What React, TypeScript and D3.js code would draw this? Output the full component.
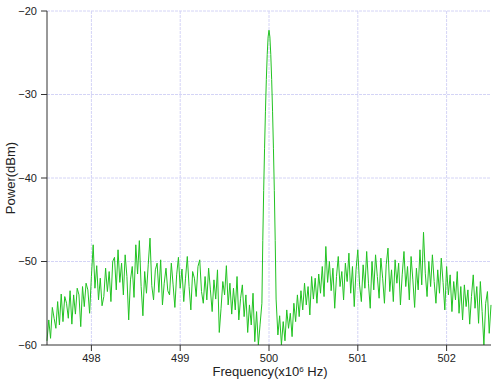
import React from "react";
import * as d3 from "d3";

// Noise floor left of carrier: 497.50 .. 499.92 MHz, step 0.02
const leftStart = 497.5;
const leftPower = [
  -59.5, -57.0, -59.2, -55.5, -56.8, -58.0, -54.8, -57.6, -53.9, -57.2,
  -54.2, -55.0, -56.8, -53.5, -57.5, -54.0, -56.3, -53.2, -54.0, -57.8,
  -53.0, -55.4, -52.6, -53.4, -56.2, -51.8, -48.0, -53.2, -50.5, -54.6,
  -52.0, -55.3, -54.2, -50.8, -53.6, -51.2, -54.8, -50.0, -49.5, -53.4,
  -48.6, -52.5, -50.2, -54.0, -49.2, -51.8, -57.0, -52.2, -50.6, -54.3,
  -48.0, -51.5, -47.5, -53.0, -56.5, -51.2, -53.8, -50.4, -47.2, -52.9,
  -54.6, -51.0, -50.2, -53.7, -49.8, -55.2, -52.6, -50.8, -53.5, -54.0,
  -50.2, -52.8, -55.5, -51.6, -49.5, -53.2, -50.9, -54.8, -52.0, -49.4,
  -53.0, -55.8, -51.2, -52.0, -54.2, -50.6, -49.8, -53.6, -55.0, -51.8,
  -54.6, -50.8, -53.4, -56.0, -52.2, -54.5, -51.0, -58.5, -55.6, -52.4,
  -54.0, -50.5, -55.2, -52.6, -56.3, -53.2, -55.8, -51.8, -57.0, -54.4,
  -52.8, -56.6, -54.0, -58.5, -55.2, -57.6, -53.8, -59.6, -56.0, -60.0,
  -57.5, -55.0,
];

// Carrier main lobe: 499.93 .. 500.07 MHz, step 0.01
const peakStart = 499.93;
const peakPower = [
  -47.5, -41.5, -36.5, -32.0, -28.2, -25.2, -23.1, -22.3,
  -23.1, -25.2, -28.2, -32.0, -36.5, -41.5, -47.5,
];

// Noise floor right of carrier: 500.08 .. 502.50 MHz, step 0.02
const rightStart = 500.08;
const rightPower = [
  -54.5, -58.8, -56.5, -60.0, -57.2, -59.5, -55.8, -58.0, -56.2, -59.0, -55.0,
  -57.2, -54.0, -56.6, -53.5, -55.8, -52.6, -55.2, -53.0, -56.4, -51.8,
  -54.5, -52.0, -55.0, -51.5, -53.8, -50.6, -54.2, -48.2, -52.5, -50.0,
  -53.5, -50.8, -55.6, -51.8, -49.4, -53.0, -51.2, -54.6, -50.2, -52.4,
  -49.0, -53.8, -50.6, -55.4, -51.0, -48.6, -52.8, -54.8, -50.4, -53.2,
  -48.8, -52.6, -55.6, -50.0, -53.4, -49.2, -51.8, -54.4, -49.6, -52.0,
  -55.0, -50.4, -48.4, -53.6, -51.0, -54.8, -49.8, -52.6, -50.2, -55.2,
  -51.6, -48.8, -53.0, -50.6, -54.6, -49.4, -52.2, -55.5, -50.8, -53.4,
  -48.6, -52.8, -46.5, -51.4, -54.2, -50.0, -53.0, -49.2, -52.4, -55.0,
  -51.0, -53.8, -49.6, -52.5, -55.8, -50.6, -54.0, -51.6, -56.0, -52.4,
  -54.6, -51.2, -56.2, -53.0, -57.0, -52.8, -55.4, -53.4, -57.5, -54.2,
  -51.6, -55.6, -53.0, -57.4, -52.4, -56.0, -60.0, -55.0, -53.6, -58.6, -55.2,
];

const xTicks = [498, 499, 500, 501, 502];
const yTicks = [-20, -30, -40, -50, -60];
const xDomain = [497.5, 502.5];
const yDomain = [-60, -20];

export default function App() {
  const W = 499;
  const H = 380;
  const x = d3.scaleLinear().domain(xDomain).range([47, 491]);
  const y = d3.scaleLinear().domain(yDomain).range([345, 11]);

  const pts: [number, number][] = [];
  leftPower.forEach((p, i) => pts.push([leftStart + i * 0.02, p]));
  peakPower.forEach((p, i) => pts.push([peakStart + i * 0.01, p]));
  rightPower.forEach((p, i) => pts.push([rightStart + i * 0.02, p]));

  const line = d3
    .line<[number, number]>()
    .x((d) => x(d[0]))
    .y((d) => y(Math.max(d[1], -60)));

  const font = "'Liberation Sans', Arial, Helvetica, sans-serif";
  const grid = "#d4d4f6";
  const axis = "#333";

  return (
    <svg
      width={W}
      height={H}
      style={{ position: "absolute", left: 0, top: 0, background: "#fff" }}
      fontFamily={font}
    >
      {/* grid */}
      {yTicks
        .filter((t) => t !== -60)
        .map((t) => (
          <line
            key={"gy" + t}
            x1={x(xDomain[0])}
            x2={x(xDomain[1])}
            y1={y(t)}
            y2={y(t)}
            stroke={grid}
            strokeWidth={1}
            strokeDasharray="3,1"
          />
        ))}
      {xTicks.map((t) => (
        <line
          key={"gx" + t}
          x1={x(t)}
          x2={x(t)}
          y1={y(yDomain[1])}
          y2={y(yDomain[0])}
          stroke={grid}
          strokeWidth={1}
          strokeDasharray="3,1"
        />
      ))}

      {/* data */}
      <path d={line(pts) || ""} fill="none" stroke="#22c322" strokeWidth={1} strokeLinejoin="round" />

      {/* axes */}
      <line x1={47} x2={47} y1={y(yDomain[1])} y2={y(yDomain[0])} stroke={axis} strokeWidth={1} />
      <line x1={47} x2={x(xDomain[1])} y1={y(yDomain[0])} y2={y(yDomain[0])} stroke={axis} strokeWidth={1} />
      {yTicks.map((t) => (
        <g key={"ty" + t}>
          <line x1={41} x2={47} y1={y(t)} y2={y(t)} stroke={axis} />
          <text x={37} y={y(t)} dy="0.35em" textAnchor="end" fontSize={11} fill="#222">
            {"\u2212" + Math.abs(t)}
          </text>
        </g>
      ))}
      {xTicks.map((t) => (
        <g key={"tx" + t}>
          <line x1={x(t)} x2={x(t)} y1={y(-60)} y2={y(-60) + 6} stroke={axis} />
          <text x={x(t)} y={362} textAnchor="middle" fontSize={11} fill="#222">
            {t}
          </text>
        </g>
      ))}

      {/* titles */}
      <text
        transform={`translate(15,${(y(-20) + y(-60)) / 2}) rotate(-90)`}
        textAnchor="middle"
        fontSize={13}
        fill="#222"
      >
        Power(dBm)
      </text>
      <text x={270} y={376} textAnchor="middle" fontSize={13} fill="#222">
        Frequency(x10
        <tspan dy={-4} fontSize={8}>6</tspan>
        <tspan dy={4}> Hz)</tspan>
      </text>
    </svg>
  );
}
